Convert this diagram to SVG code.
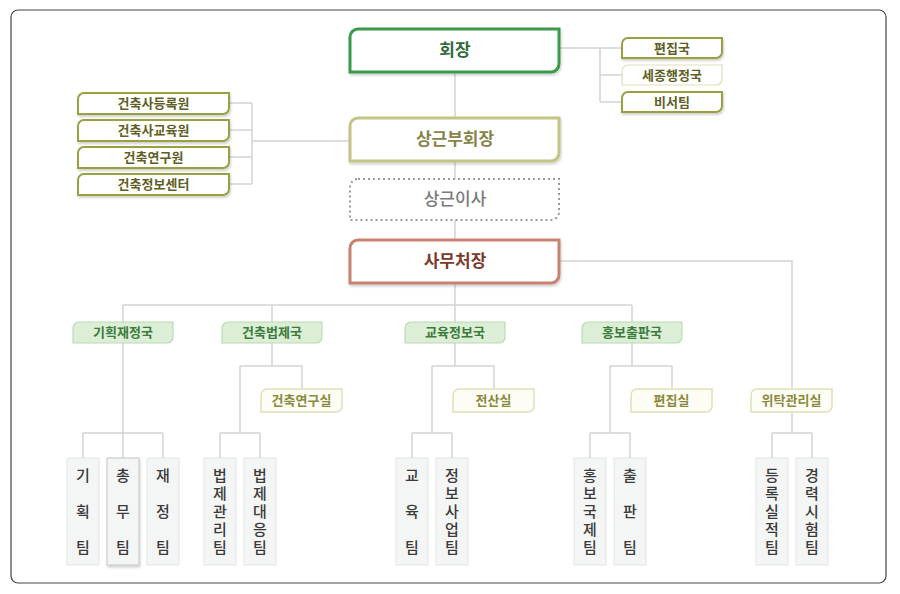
<svg xmlns="http://www.w3.org/2000/svg" width="900" height="594" viewBox="0 0 900 594">
<defs>
<filter id="sh" x="-10%" y="-20%" width="120%" height="150%">
<feDropShadow dx="1" dy="2" stdDeviation="1" flood-color="#000" flood-opacity="0.18"/>
</filter>
<style>
text{font-family:"Noto Sans CJK KR","Noto Sans",sans-serif;text-anchor:middle}
.ln{fill:none;stroke:#d3d3d3;stroke-width:1.5}
.main{fill:#fff;stroke-width:3;filter:url(#sh)}
.mt{font-size:17px;font-weight:bold}
.sm{fill:#fff;stroke:#9aa040;stroke-width:2;filter:url(#sh)}
.smt{font-size:13px;font-weight:bold;fill:#5f5f25}
.div{fill:#dcefd6;stroke:#b8dcb2;stroke-width:1.2}
.divt{font-size:13px;font-weight:bold;fill:#3b7b3b}
.sub{fill:#fdfdf6;stroke:#dfe0b8;stroke-width:1.5}
.subt{font-size:13px;font-weight:bold;fill:#8a8a3a}
.team{fill:#f4f5f5;stroke:#e3e5e5;stroke-width:1}
.tt{font-size:15px;fill:#3a3a3a;font-weight:500;writing-mode:vertical-rl;text-orientation:upright;text-anchor:start}
.t3{letter-spacing:21px}
.t5{letter-spacing:3px}
</style>
</defs>
<rect x="11" y="10" width="875" height="573" rx="7" fill="#fff" stroke="#444" stroke-width="1.2"/>

<g id="connectors">
<path class="ln" d="M559,48 H622 M600,48 V102 M600,75 H622 M600,102 H622"/>
<path class="ln" d="M229,103 H252 M229,130 H252 M229,157 H252 M229,184 H252 M252,103 V184 M252,141 H350"/>
<path class="ln" d="M455,72 V118 M455,161 V179 M455,220 V240 M455,283 V322"/>
<path class="ln" d="M123,305 H632 M123,305 V322 M272,305 V322 M632,305 V322"/>
<path class="ln" d="M559,261 H792 V389"/>
<path class="ln" d="M123,343 V433 M83,433 H163 M83,433 V458 M123,433 V458 M163,433 V458"/>
<path class="ln" d="M272,343 V366 M240,366 H302 V389 M240,366 V433 M220,433 H260 M220,433 V458 M260,433 V458"/>
<path class="ln" d="M455,343 V366 M432,366 H494 V389 M432,366 V433 M412,433 H452 M412,433 V458 M452,433 V458"/>
<path class="ln" d="M632,343 V366 M610,366 H672 V389 M610,366 V433 M590,433 H630 M590,433 V458 M630,433 V458"/>
<path class="ln" d="M792,412 V433 M772,433 H812 M772,433 V458 M812,433 V458"/>
</g>

<g id="n-chairman">
<path class="main" stroke="#3a9a4a" d="M358,29 H559 V64 A8,8 0 0 1 551,72 H350 V37 A8,8 0 0 1 358,29 Z"/>
<text class="mt" x="455" y="56" fill="#2f6b3c">회장</text>
</g>
<g id="n-vice">
<path class="main" stroke="#c4c486" d="M358,118 H559 V153 A8,8 0 0 1 551,161 H350 V126 A8,8 0 0 1 358,118 Z"/>
<text class="mt" x="455" y="145" fill="#85854a">상근부회장</text>
</g>
<g id="n-director">
<path fill="#fff" stroke="#9a9a9a" stroke-width="2" stroke-dasharray="2 3" d="M358,179 H559 V212 A8,8 0 0 1 551,220 H350 V187 A8,8 0 0 1 358,179 Z"/>
<text class="mt" x="455" y="205" fill="#7a7a7a" style="font-weight:500">상근이사</text>
</g>
<g id="n-secgen">
<path class="main" stroke="#c98272" d="M358,240 H559 V275 A8,8 0 0 1 551,283 H350 V248 A8,8 0 0 1 358,240 Z"/>
<text class="mt" x="455" y="267" fill="#7b3b2b">사무처장</text>
</g>

<g id="n-edit">
<path class="sm" d="M628,38 H722 V52 A6,6 0 0 1 716,58 H622 V44 A6,6 0 0 1 628,38 Z"/>
<text class="smt" x="672" y="53">편집국</text>
</g>
<g id="n-sejong">
<path fill="#fff" stroke="#dfe0b8" stroke-width="1.2" d="M628,65 H722 V79 A6,6 0 0 1 716,85 H622 V71 A6,6 0 0 1 628,65 Z"/>
<text class="smt" x="672" y="80" fill="#6f6f35">세종행정국</text>
</g>
<g id="n-secretary">
<path class="sm" d="M628,92 H722 V106 A6,6 0 0 1 716,112 H622 V98 A6,6 0 0 1 628,92 Z"/>
<text class="smt" x="672" y="107">비서팀</text>
</g>

<g id="n-reg">
<path class="sm" d="M84,93 H229 V108 A6,6 0 0 1 223,114 H78 V99 A6,6 0 0 1 84,93 Z"/>
<text class="smt" x="153.5" y="108">건축사등록원</text>
</g>
<g id="n-edu">
<path class="sm" d="M84,120 H229 V135 A6,6 0 0 1 223,141 H78 V126 A6,6 0 0 1 84,120 Z"/>
<text class="smt" x="153.5" y="135">건축사교육원</text>
</g>
<g id="n-research">
<path class="sm" d="M84,147 H229 V162 A6,6 0 0 1 223,168 H78 V153 A6,6 0 0 1 84,147 Z"/>
<text class="smt" x="153.5" y="162">건축연구원</text>
</g>
<g id="n-info">
<path class="sm" d="M84,174 H229 V189 A6,6 0 0 1 223,195 H78 V180 A6,6 0 0 1 84,174 Z"/>
<text class="smt" x="153.5" y="189">건축정보센터</text>
</g>

<g id="d-plan">
<path class="div" d="M79,322 H173 V337 A6,6 0 0 1 167,343 H73 V328 A6,6 0 0 1 79,322 Z"/>
<text class="divt" x="123" y="337">기획재정국</text>
</g>
<g id="d-law">
<path class="div" d="M228,322 H322 V337 A6,6 0 0 1 316,343 H222 V328 A6,6 0 0 1 228,322 Z"/>
<text class="divt" x="272" y="337">건축법제국</text>
</g>
<g id="d-eduinfo">
<path class="div" d="M411,322 H505 V337 A6,6 0 0 1 499,343 H405 V328 A6,6 0 0 1 411,322 Z"/>
<text class="divt" x="455" y="337">교육정보국</text>
</g>
<g id="d-pr">
<path class="div" d="M588,322 H682 V337 A6,6 0 0 1 676,343 H582 V328 A6,6 0 0 1 588,322 Z"/>
<text class="divt" x="632" y="337">홍보출판국</text>
</g>

<g id="s-research">
<path class="sub" d="M267,389 H342 V406 A6,6 0 0 1 336,412 H261 V395 A6,6 0 0 1 267,389 Z"/>
<text class="subt" x="301.5" y="405">건축연구실</text>
</g>
<g id="s-computer">
<path class="sub" d="M459,389 H534 V406 A6,6 0 0 1 528,412 H453 V395 A6,6 0 0 1 459,389 Z"/>
<text class="subt" x="493.5" y="405">전산실</text>
</g>
<g id="s-edit">
<path class="sub" d="M637,389 H712 V406 A6,6 0 0 1 706,412 H631 V395 A6,6 0 0 1 637,389 Z"/>
<text class="subt" x="671.5" y="405">편집실</text>
</g>
<g id="s-trust">
<path class="sub" fill="#fafaee" d="M757,389 H832 V406 A6,6 0 0 1 826,412 H751 V395 A6,6 0 0 1 757,389 Z"/>
<text class="subt" x="791.5" y="405">위탁관리실</text>
</g>

<g id="t-plan">
<rect class="team" x="67" y="458" width="32" height="107"/>
<text class="tt t3" x="83" y="467.5">기획팀</text>
</g>
<g id="t-general">
<rect class="team" x="107" y="458" width="32" height="107" style="stroke:#c4c6c6;filter:url(#sh)"/>
<text class="tt t3" x="123" y="467.5">총무팀</text>
</g>
<g id="t-finance">
<rect class="team" x="147" y="458" width="32" height="107"/>
<text class="tt t3" x="163" y="467.5">재정팀</text>
</g>
<g id="t-lawmgmt">
<rect class="team" x="204" y="458" width="32" height="107"/>
<text class="tt t5" x="220" y="467.5">법제관리팀</text>
</g>
<g id="t-lawresp">
<rect class="team" x="244" y="458" width="32" height="107"/>
<text class="tt t5" x="260" y="467.5">법제대응팀</text>
</g>
<g id="t-edu">
<rect class="team" x="396" y="458" width="32" height="107"/>
<text class="tt t3" x="412" y="467.5">교육팀</text>
</g>
<g id="t-infobiz">
<rect class="team" x="436" y="458" width="32" height="107"/>
<text class="tt t5" x="452" y="467.5">정보사업팀</text>
</g>
<g id="t-printl">
<rect class="team" x="574" y="458" width="32" height="107"/>
<text class="tt t5" x="590" y="467.5">홍보국제팀</text>
</g>
<g id="t-publish">
<rect class="team" x="614" y="458" width="32" height="107"/>
<text class="tt t3" x="630" y="467.5">출판팀</text>
</g>
<g id="t-record">
<rect class="team" x="756" y="458" width="32" height="107"/>
<text class="tt t5" x="772" y="467.5">등록실적팀</text>
</g>
<g id="t-career">
<rect class="team" x="796" y="458" width="32" height="107"/>
<text class="tt t5" x="812" y="467.5">경력시험팀</text>
</g>
</svg>
